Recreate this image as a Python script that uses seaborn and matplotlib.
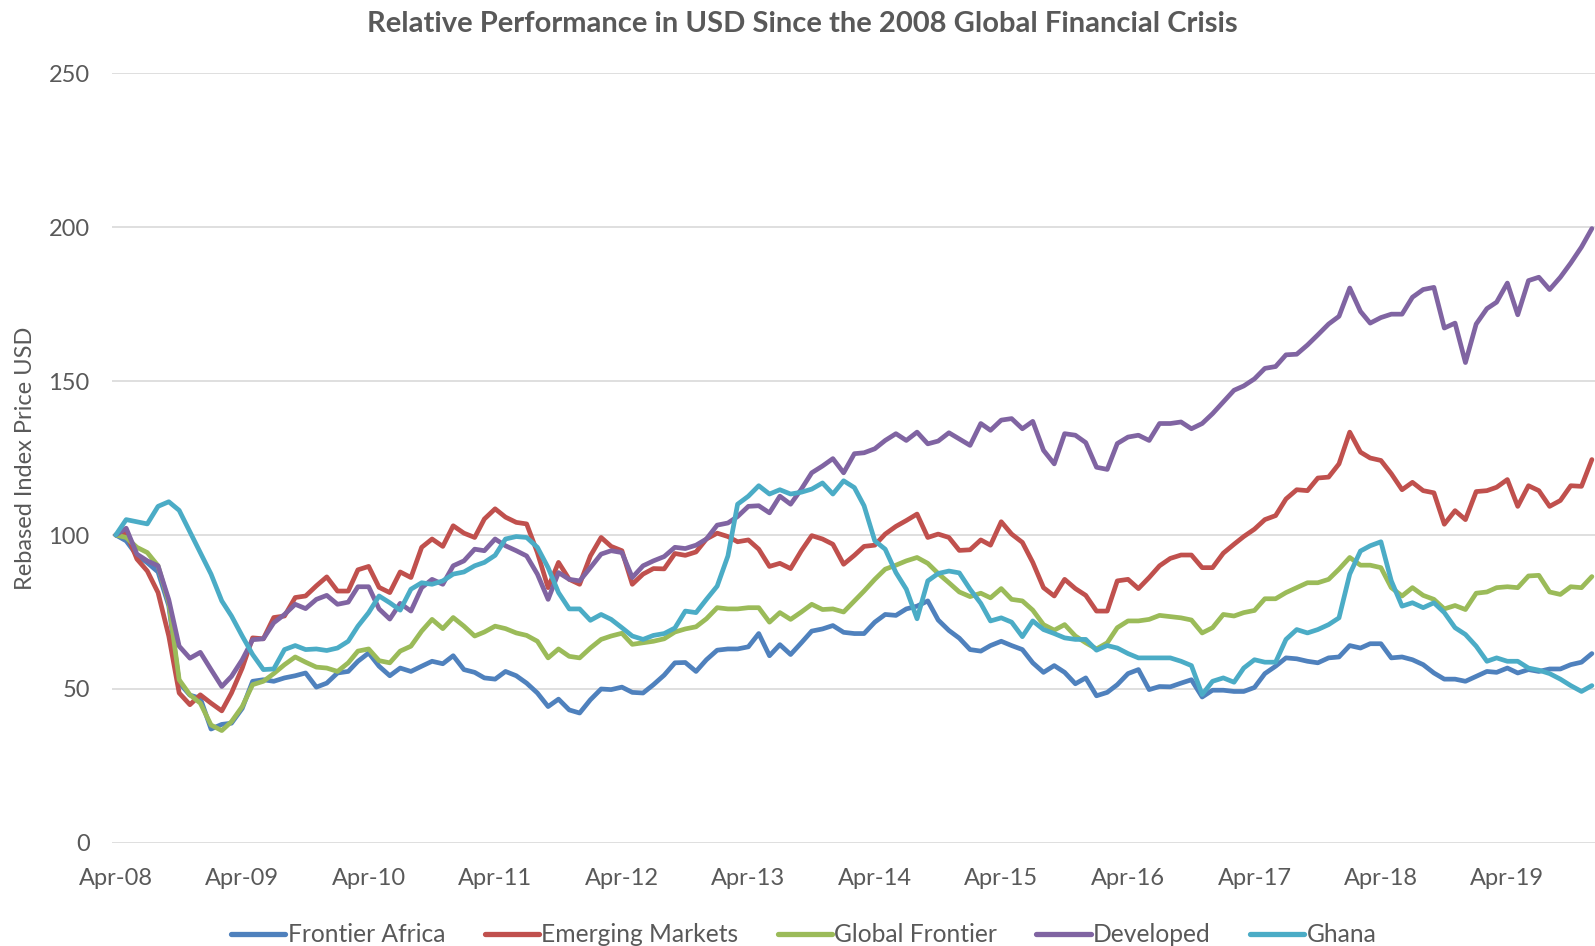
import matplotlib
matplotlib.use("Agg")
import matplotlib.pyplot as plt
import matplotlib.dates as mdates
from matplotlib.lines import Line2D
import numpy as np
import pandas as pd
import seaborn as sns

# monthly index levels, rebased to 100 at Apr-08 (Apr-08 .. Dec-19)
frontier_africa = [
    100, 98.1, 93.4, 91, 88, 77, 52, 48, 47, 37,
    38.5, 38.9, 43.7, 52.5, 53, 52.5, 53.6, 54.3, 55.2, 50.6,
    51.9, 55.2, 55.7, 59, 61.7, 57.4, 54.3, 56.8, 55.7, 57.4,
    59, 58.2, 60.8, 56.3, 55.4, 53.6, 53.2, 55.7, 54.3, 51.9,
    48.7, 44.3, 46.7, 43.2, 42.2, 46.5, 50, 49.8, 50.6, 48.9,
    48.7, 51.4, 54.5, 58.5, 58.6, 55.7, 59.5, 62.6, 63, 63,
    63.7, 68, 60.8, 64.4, 61.2, 65, 68.8, 69.5, 70.6, 68.4,
    68, 68, 71.7, 74.2, 73.9, 76, 76.9, 78.6, 72.4, 69,
    66.5, 62.8, 62.3, 64.1, 65.5, 64.1, 62.8, 58.5, 55.4, 57.6,
    55.4, 51.7, 53.6, 47.8, 48.9, 51.4, 55, 56.3, 49.8, 50.8,
    50.7, 51.9, 53, 47.4, 49.6, 49.6, 49.2, 49.2, 50.5, 55,
    57.4, 60.1, 59.8, 59, 58.5, 60.1, 60.4, 64.1, 63.3, 64.7,
    64.7, 60.1, 60.4, 59.5, 57.9, 55.2, 53.2, 53.2, 52.5, 54.1,
    55.7, 55.4, 56.8, 55.2, 56.3, 55.7, 56.5, 56.5, 57.9, 58.7,
    61.5,
]
emerging_markets = [
    100, 100.8, 92.2, 88.3, 81.3, 67.2, 48.7, 44.9, 48.1, 45.4,
    42.9, 48.7, 56.8, 66.6, 66.3, 73.2, 73.7, 79.7, 80.2, 83.5,
    86.4, 81.8, 81.8, 88.7, 89.8, 83, 81.3, 88, 86.2, 96,
    98.7, 96.3, 103, 100.6, 99.2, 105.2, 108.5, 105.8, 104.1, 103.6,
    94.3, 82.9, 91.1, 85.6, 84, 93.2, 99.2, 96.3, 94.9, 84,
    87.3, 89.1, 89, 94, 93.4, 94.5, 98.7, 100.6, 99.5, 97.8,
    98.4, 95.4, 89.8, 90.8, 89.1, 94.9, 99.8, 98.7, 97, 90.5,
    93.4, 96.3, 96.7, 100.3, 102.8, 104.7, 106.8, 99.2, 100.3, 99.2,
    95, 95.2, 98.4, 96.7, 104.3, 100.3, 97.6, 91.1, 82.9, 80.2,
    85.6, 82.6, 80.4, 75.3, 75.3, 85.1, 85.6, 82.6, 86.2, 90,
    92.4, 93.5, 93.5, 89.4, 89.4, 94.1, 97, 99.5, 101.9, 105,
    106.3, 111.7, 114.7, 114.4, 118.5, 118.8, 123.1, 133.4, 126.9, 125,
    124.2, 119.9, 114.7, 117.1, 114.4, 113.7, 103.5, 107.9, 105, 114.1,
    114.4, 115.5, 118, 109.3, 116, 114.4, 109.3, 111.2, 116, 115.8,
    124.5,
]
global_frontier = [
    100, 99.2, 96, 94.3, 90, 78, 53, 48.1, 45.4, 38.3,
    36.5, 39.4, 44.3, 51.4, 52.5, 55, 57.9, 60.4, 58.7, 57.1,
    56.8, 55.7, 58.5, 62.3, 63, 59.2, 58.5, 62.3, 63.9, 68.8,
    72.6, 69.6, 73.2, 70.4, 67.2, 68.5, 70.4, 69.6, 68.2, 67.4,
    65.5, 60.1, 63, 60.6, 60.1, 63.3, 66.1, 67.2, 68.1, 64.5,
    65, 65.5, 66.3, 68.5, 69.5, 70.2, 72.8, 76.4, 76, 76,
    76.4, 76.4, 71.7, 74.8, 72.6, 75, 77.5, 75.8, 76, 75,
    78.6, 81.8, 85.6, 88.9, 90.2, 91.6, 92.7, 90.8, 87.5, 84.5,
    81.5, 80, 81.1, 79.6, 82.6, 79.1, 78.6, 75.6, 70.9, 69.1,
    70.9, 67.2, 65, 63, 65, 69.9, 72.1, 72.1, 72.6, 73.9,
    73.5, 73.1, 72.4, 68.2, 69.9, 74.2, 73.7, 74.8, 75.5, 79.3,
    79.3, 81.3, 82.9, 84.5, 84.5, 85.6, 88.9, 92.7, 90.2, 90.2,
    89.4, 82.9, 80.2, 82.9, 80.4, 79.1, 76, 77.1, 75.8, 81.1,
    81.5, 82.9, 83.2, 82.9, 86.7, 86.9, 81.5, 80.7, 83.2, 82.9,
    86.5,
]
developed = [
    100, 102.2, 93.8, 91.6, 90, 79, 63.9, 60, 61.9, 56.3,
    50.8, 54.1, 59.5, 66, 66.3, 71.5, 74.2, 77.5, 76.1, 79.1,
    80.4, 77.5, 78.2, 83.2, 83.2, 76, 72.7, 77.8, 75.3, 82.9,
    85.6, 84, 90, 91.6, 95.4, 94.9, 98.7, 96.5, 94.9, 93.2,
    87.3, 79.1, 87.8, 85.6, 85.1, 89.4, 93.8, 94.9, 94.3, 86.2,
    90, 91.6, 93, 96, 95.6, 96.7, 98.7, 103.2, 103.9, 106,
    109.3, 109.5, 107.2, 112.6, 110, 114.9, 120.2, 122.4, 124.8, 120.2,
    126.4, 126.7, 128, 130.7, 132.9, 130.7, 133.4, 129.6, 130.5, 133.2,
    131.2, 129.1, 136.2, 134, 137.3, 137.8, 134.5, 136.9, 127.5, 123.1,
    132.9, 132.4, 130, 122, 121.3, 129.7, 131.8, 132.4, 130.7, 136.2,
    136.2, 136.7, 134.5, 136.2, 139.4, 143.2, 147, 148.4, 150.7, 154.1,
    154.7, 158.5, 158.7, 161.7, 165, 168.5, 171, 180.2, 172.6, 168.8,
    170.6, 171.7, 171.7, 177.2, 179.7, 180.4, 167.2, 168.8, 156, 168.5,
    173.5, 175.6, 181.8, 171.5, 182.6, 183.7, 179.7, 183.7, 188.3, 193.5,
    199.5,
]
ghana = [
    100, 105, 104.3, 103.6, 109.3, 110.8, 108, 101, 94.3, 87.3,
    78.6, 73.7, 67.2, 61.2, 56.3, 56.5, 62.8, 64.1, 62.8, 63,
    62.5, 63.3, 65.5, 70.4, 74.8, 80.2, 78, 75.6, 82.4, 84.5,
    84, 85.1, 87.3, 88, 90, 91.1, 93.4, 98.7, 99.5, 99.2,
    96, 89.4, 81.3, 76, 76, 72.3, 74.2, 72.6, 69.9, 67.2,
    66.1, 67.4, 68, 69.8, 75.3, 74.8, 79.1, 83.4, 93.2, 110,
    112.6, 116, 113.3, 114.7, 113.3, 113.9, 114.9, 116.9, 113.3, 117.6,
    115.4, 109.5, 98.1, 95.4, 87.8, 82.4, 72.8, 85.1, 87.5, 88.3,
    87.7, 82.4, 77.8, 72.1, 73.1, 71.7, 67, 72.1, 69.3, 68,
    66.6, 66.1, 66.1, 62.6, 64.1, 63.3, 61.5, 60.1, 60.1, 60.1,
    60.1, 59, 57.6, 48.2, 52.5, 53.6, 52.2, 56.8, 59.5, 58.7,
    58.7, 66.1, 69.3, 68.2, 69.3, 70.9, 73.1, 87.3, 94.8, 96.5,
    97.8, 85.1, 76.9, 78, 76.4, 78, 74.8, 69.9, 67.7, 63.9,
    59, 60.1, 59, 59, 56.8, 56.1, 55, 53.2, 51.1, 49.2,
    51.1,
]

series_names = ["Frontier Africa", "Emerging Markets", "Global Frontier", "Developed", "Ghana"]
series_values = [frontier_africa, emerging_markets, global_frontier, developed, ghana]
colors = ["#4F81BD", "#C0504D", "#9BBB59", "#8064A2", "#4BACC6"]

frames = []
for name, vals in zip(series_names, series_values):
    dates = pd.date_range("2008-04-01", periods=len(vals), freq="MS")
    frames.append(pd.DataFrame({"date": dates, "value": vals, "series": name}))
df = pd.concat(frames, ignore_index=True)

sns.set_theme(style="white")
plt.rcParams["font.family"] = ["Lato", "DejaVu Sans"]
text_color = "#595959"

fig = plt.figure(figsize=(15.95, 9.46), dpi=100)
ax = fig.add_axes([0.0702, 0.1089, 0.9298, 0.8139])

sns.lineplot(data=df, x="date", y="value", hue="series", palette=colors,
             hue_order=series_names, linewidth=3.4, ax=ax, legend=False)

ax.set_ylim(0, 250)
ax.set_yticks(np.arange(0, 251, 50))
ax.set_xlim(pd.Timestamp("2008-03-21"), pd.Timestamp("2019-12-10"))
ax.xaxis.set_major_locator(mdates.MonthLocator(bymonth=4))
ax.xaxis.set_major_formatter(mdates.DateFormatter("%b-%y"))
ax.grid(axis="y", color="#D9D9D9", linewidth=1.2)
ax.grid(axis="x", visible=False)
for s in ax.spines.values():
    s.set_visible(False)
ax.tick_params(axis="both", length=0, labelsize=17, colors=text_color)
ax.tick_params(axis="x", pad=18)
ax.tick_params(axis="y", pad=16)
ax.set_xlabel("")
ax.set_ylabel("Rebased Index Price USD", fontsize=17, color=text_color, labelpad=9)

fig.suptitle("Relative Performance in USD Since the 2008 Global Financial Crisis",
             x=0.503, y=0.988, fontsize=21, fontweight="bold", color=text_color)

handles = [Line2D([0], [0], color=c, linewidth=3.8) for c in colors]
fig.legend(handles, series_names, loc="center", bbox_to_anchor=(0.504, 0.012),
           ncol=5, frameon=False, fontsize=17.7, handlelength=2.2, handletextpad=0.1,
           columnspacing=1.6, labelcolor=text_color)

fig.savefig("out.png", dpi=100)
